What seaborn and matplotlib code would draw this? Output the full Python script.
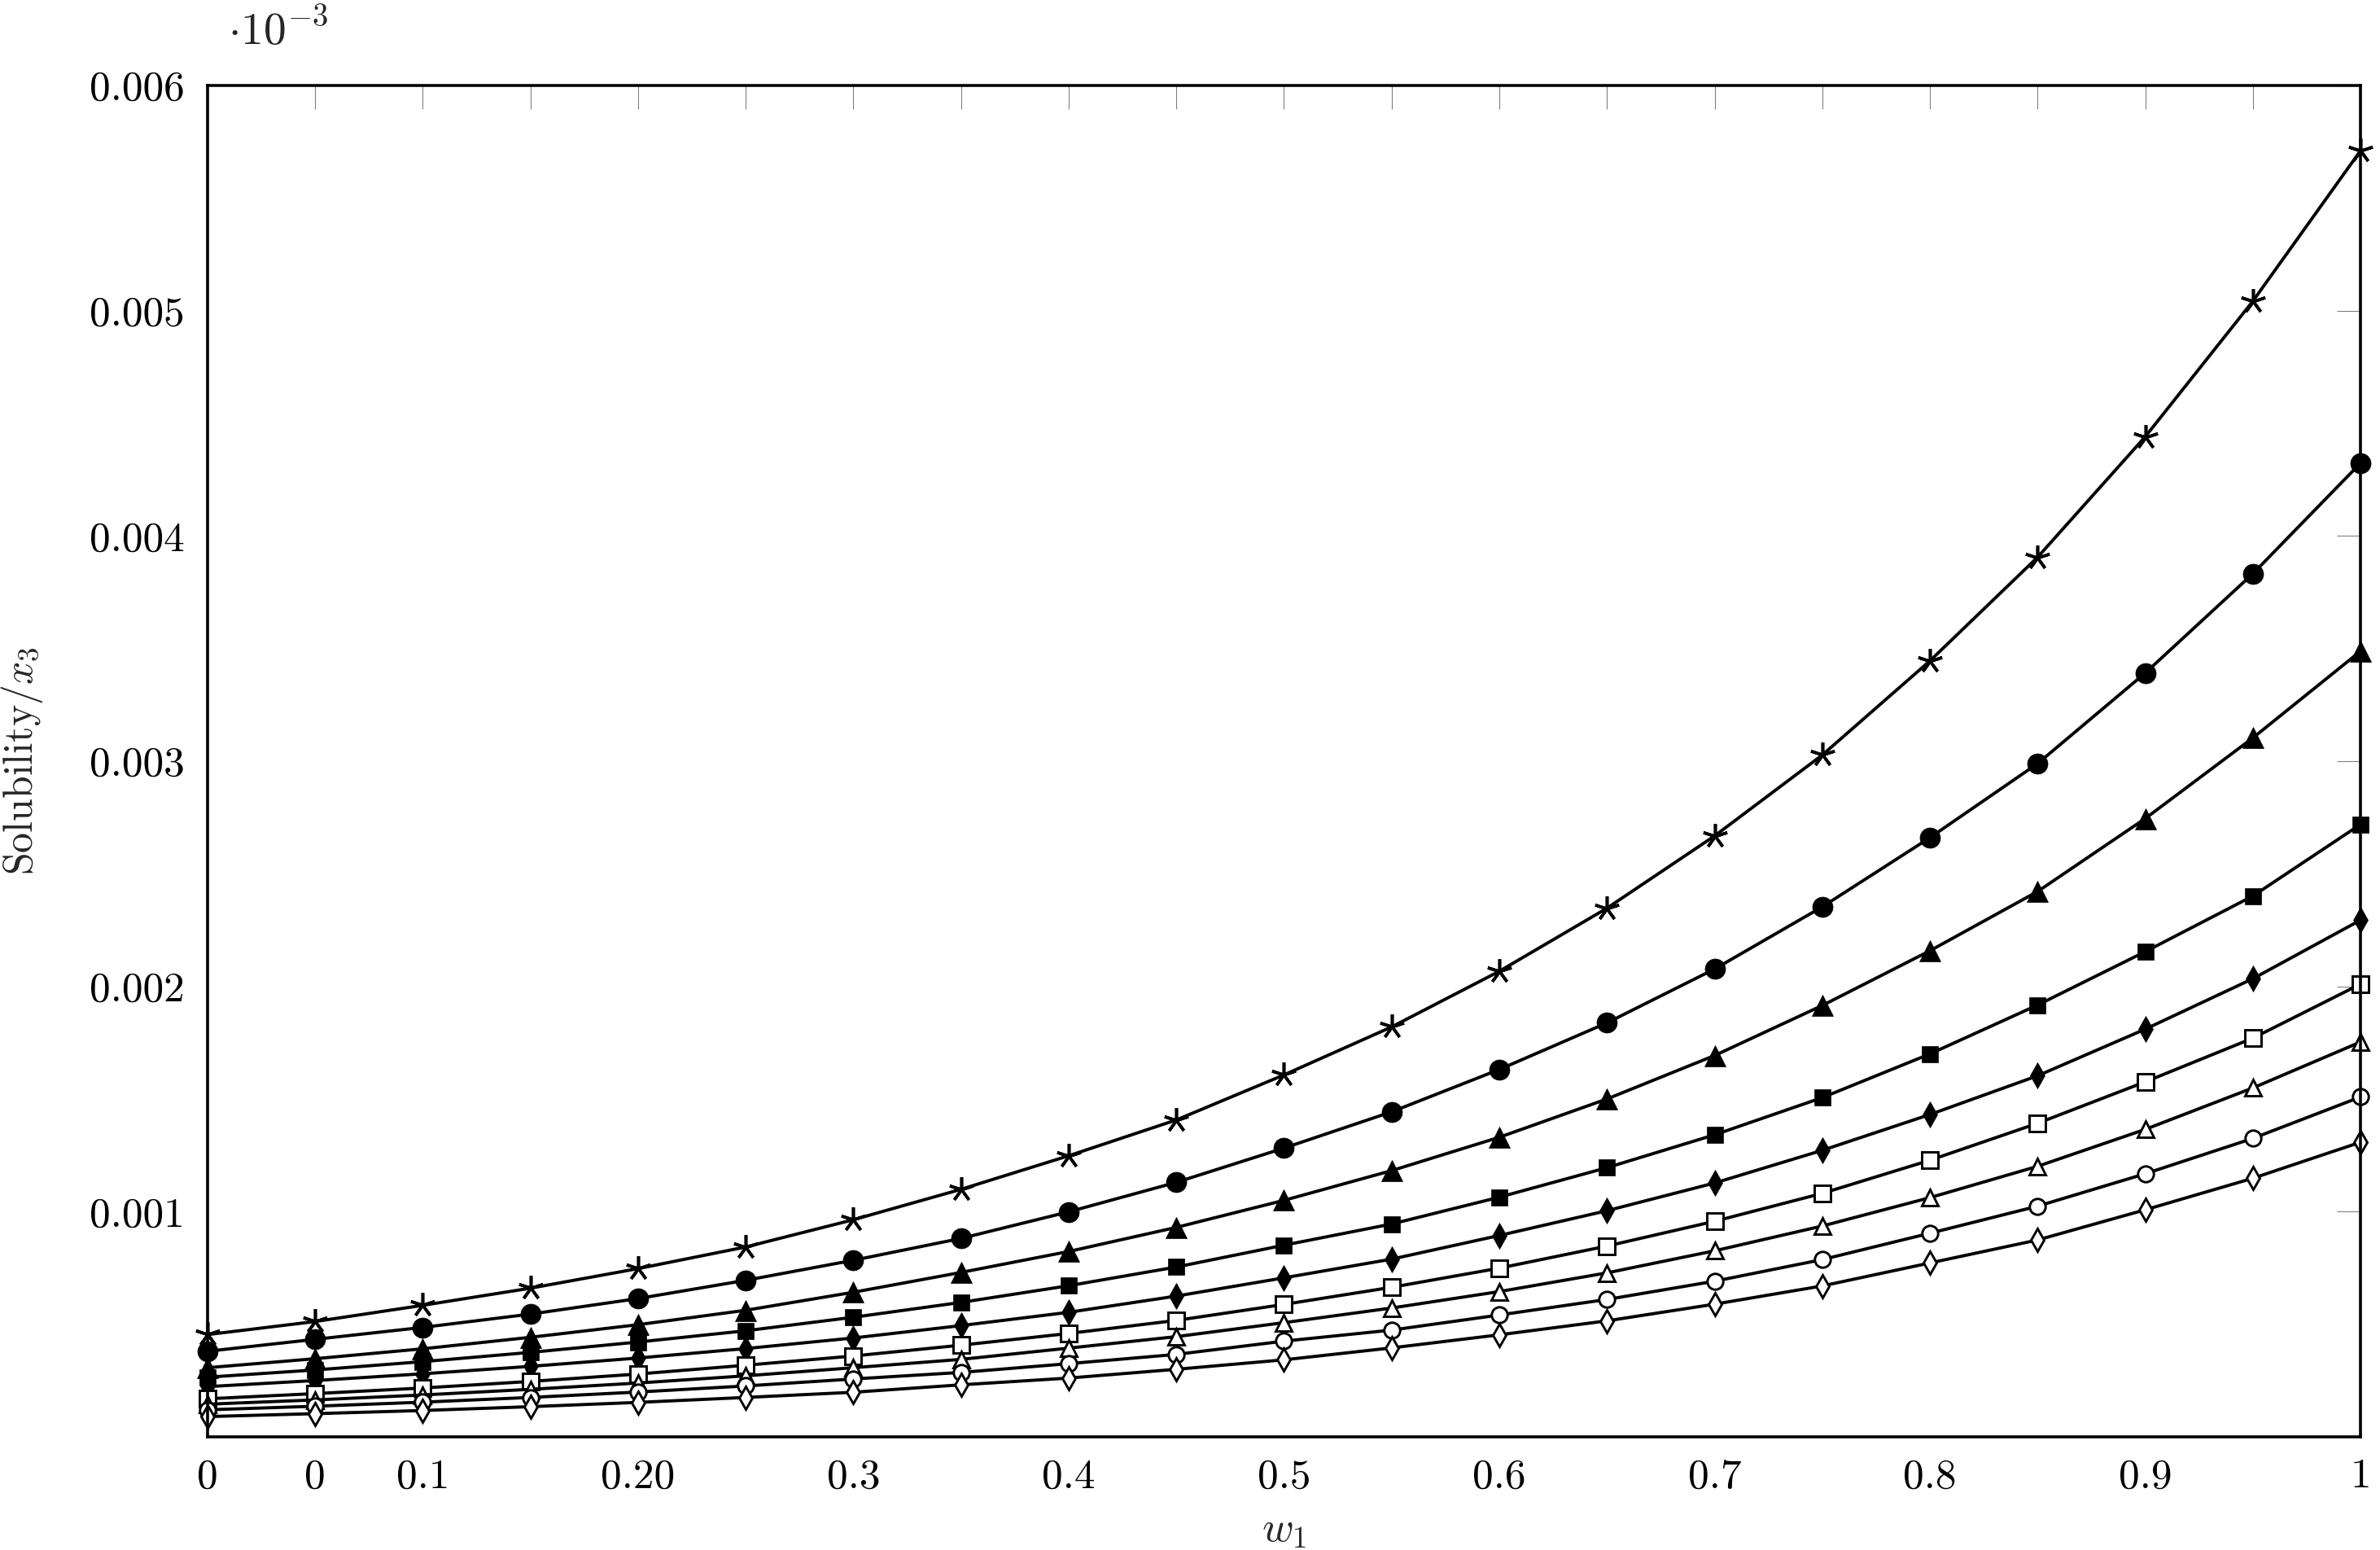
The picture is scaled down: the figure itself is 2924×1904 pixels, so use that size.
import numpy as np
import pandas as pd
import matplotlib
matplotlib.use('Agg')
import matplotlib.pyplot as plt
import seaborn as sns

# mass fraction w1
w1 = [0.00, 0.05, 0.10, 0.15, 0.20, 0.25, 0.30, 0.35, 0.40, 0.45, 0.50,
      0.55, 0.60, 0.65, 0.70, 0.75, 0.80, 0.85, 0.90, 0.95, 1.00]

# solubility x3 (in units of 1e-3), one list per curve, top to bottom
sol_star = [0.454, 0.512, 0.584, 0.660, 0.747, 0.843, 0.964, 1.099, 1.248, 1.407, 1.607,
            1.820, 2.067, 2.347, 2.668, 3.027, 3.445, 3.905, 4.440, 5.042, 5.710]
sol_circle = [0.380, 0.433, 0.486, 0.545, 0.614, 0.695, 0.784, 0.881, 0.999, 1.130, 1.282,
              1.443, 1.631, 1.838, 2.077, 2.353, 2.660, 2.989, 3.391, 3.832, 4.323]
sol_triangle = [0.307, 0.347, 0.391, 0.442, 0.498, 0.562, 0.642, 0.730, 0.823, 0.930, 1.050,
                1.182, 1.330, 1.500, 1.693, 1.915, 2.158, 2.421, 2.745, 3.103, 3.488]
sol_square = [0.265, 0.297, 0.334, 0.375, 0.421, 0.471, 0.531, 0.597, 0.671, 0.754, 0.851,
              0.945, 1.064, 1.195, 1.341, 1.506, 1.700, 1.917, 2.154, 2.401, 2.719]
sol_diamond = [0.223, 0.250, 0.280, 0.313, 0.350, 0.392, 0.439, 0.494, 0.553, 0.625, 0.706,
               0.789, 0.894, 1.004, 1.127, 1.272, 1.431, 1.603, 1.810, 2.034, 2.294]
sol_osquare = [0.169, 0.192, 0.217, 0.246, 0.279, 0.318, 0.359, 0.407, 0.459, 0.517, 0.588,
               0.664, 0.749, 0.847, 0.957, 1.081, 1.228, 1.392, 1.576, 1.770, 2.010]
sol_otriangle = [0.145, 0.164, 0.186, 0.211, 0.239, 0.271, 0.307, 0.344, 0.394, 0.445, 0.507,
                 0.572, 0.645, 0.728, 0.826, 0.936, 1.062, 1.201, 1.365, 1.549, 1.753]
sol_ocircle = [0.120, 0.136, 0.154, 0.175, 0.199, 0.226, 0.257, 0.286, 0.325, 0.366, 0.425,
               0.474, 0.541, 0.610, 0.691, 0.787, 0.904, 1.024, 1.168, 1.325, 1.509]
sol_odiamond = [0.090, 0.103, 0.117, 0.134, 0.153, 0.175, 0.198, 0.231, 0.261, 0.300, 0.342,
                0.395, 0.453, 0.515, 0.589, 0.670, 0.772, 0.874, 1.008, 1.148, 1.308]

xtick_labels = ['0', '0', '0.1', '', '0.20', '', '0.3', '', '0.4', '', '0.5',
                '', '0.6', '', '0.7', '', '0.8', '', '0.9', '', '1']
ytick_vals = [0.001, 0.002, 0.003, 0.004, 0.005, 0.006]
ytick_labels = ['0.001', '0.002', '0.003', '0.004', '0.005', '0.006']

sns.set_theme(style='white')
plt.rcParams['font.family'] = ['cmr10', 'DejaVu Serif']
plt.rcParams['mathtext.fontset'] = 'cm'
plt.rcParams['axes.unicode_minus'] = False

# (values, marker, size, filled)
series = [
    (sol_star, (5, 2, 0), 22, True),
    (sol_circle, 'o', 18, True),
    (sol_triangle, '^', 19, True),
    (sol_square, 's', 15, True),
    (sol_diamond, 'd', 16, True),
    (sol_osquare, 's', 14, False),
    (sol_otriangle, '^', 14, False),
    (sol_ocircle, 'o', 14, False),
    (sol_odiamond, 'd', 14, False),
]

fig = plt.figure(figsize=(29.24, 19.04), dpi=100)
ax = fig.add_axes([0.0872, 0.0730, 0.9046, 0.8719])

for vals, mk, ms, filled in series:
    y = np.array(vals) * 1e-3
    sns.lineplot(x=w1, y=y, ax=ax, color='black', linewidth=2.8,
                 marker=mk, markersize=ms,
                 markerfacecolor='black' if filled else 'white',
                 markeredgecolor='black',
                 markeredgewidth=2.6 if mk == (5, 2, 0) else (0.5 if filled else 2.1),
                 clip_on=False, zorder=3)

ax.set_xlim(0, 1)
ax.set_ylim(0, 0.006)
ax.set_xticks(w1)
ax.set_xticklabels(xtick_labels)
ax.set_yticks(ytick_vals)
ax.set_yticklabels(ytick_labels)

ax.tick_params(axis='both', which='major', direction='in', length=21, width=0.8,
               color='#808080', labelsize=37, top=True, right=True,
               labelcolor='black')
ax.tick_params(axis='x', pad=19)
ax.tick_params(axis='y', pad=20)

for s in ax.spines.values():
    s.set_color('black')
    s.set_linewidth(2.6)
    s.set_zorder(4)

ax.set_xlabel(r'$w_1$', fontsize=38, labelpad=14)
ax.set_ylabel(r'Solubility/$x_3$', fontsize=36, labelpad=40)
ax.text(0.0095, 1.030, r'$\cdot 10^{-3}$', transform=ax.transAxes,
        fontsize=40, ha='left', va='baseline')
ax.grid(False)

fig.savefig('out.png', dpi=100)
